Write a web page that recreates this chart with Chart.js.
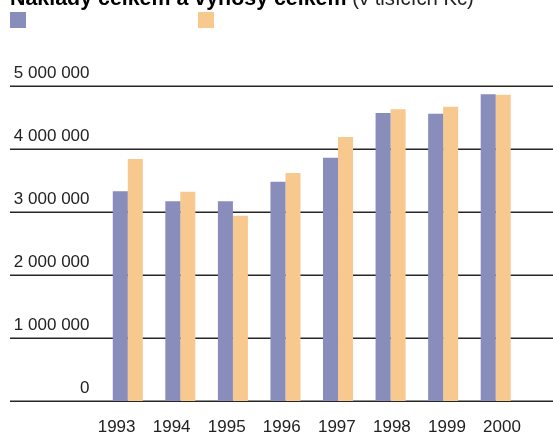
<!DOCTYPE html>
<html lang="cs">
<head>
<meta charset="utf-8">
<title>Náklady celkem a výnosy celkem</title>
<script src="https://cdn.jsdelivr.net/npm/chart.js@4/dist/chart.umd.min.js"></script>
<style>
  html, body { margin: 0; padding: 0; background: #fff; }
  #wrap { width: 553px; height: 433px; position: relative; }
</style>
</head>
<body>
<div id="wrap"><canvas id="c" width="553" height="433"></canvas></div>
<script>
// Roky a hodnoty v tisících Kč
const years = ['1993', '1994', '1995', '1996', '1997', '1998', '1999', '2000'];
const naklady = [3330000, 3170000, 3170000, 3480000, 3860000, 4570000, 4560000, 4870000];
const vynosy  = [3840000, 3320000, 2940000, 3620000, 4190000, 4630000, 4670000, 4860000];
const yTickLabels = ['0', '1 000 000', '2 000 000', '3 000 000', '4 000 000', '5 000 000'];

const titleBold = 'Náklady celkem a výnosy celkem';
const titleLight = ' (v tisících Kč)';
const seriesNames = ['Náklady celkem', 'Výnosy celkem'];
const colors = ['#898dbb', '#f8c98f'];

const FONT = '"Liberation Sans", Arial, Helvetica, sans-serif';

// Vodorovné linky přes celou šířku a nadpis s legendou
const decor = {
  id: 'decor',
  beforeDatasetsDraw(chart) {
    const ctx = chart.ctx;
    const ys = chart.scales.y;
    ctx.save();
    ctx.strokeStyle = '#262626';
    ctx.lineWidth = 1.6;
    ys.ticks.forEach(t => {
      const py = Math.round(ys.getPixelForValue(t.value)) + 0.2;
      ctx.beginPath();
      ctx.moveTo(10, py);
      ctx.lineTo(chart.width, py);
      ctx.stroke();
    });
    ctx.restore();
  },
  afterDraw(chart) {
    const ctx = chart.ctx;
    ctx.save();
    ctx.textBaseline = 'alphabetic';
    ctx.fillStyle = '#000';
    ctx.font = 'bold 21.4px ' + FONT;
    ctx.fillText(titleBold, 10, 5);
    const w = ctx.measureText(titleBold).width;
    ctx.font = '20.3px ' + FONT;
    ctx.fillStyle = '#222';
    ctx.fillText(titleLight, 10 + w, 5);
    // čtverečky legendy
    const boxX = [10, 198];
    chart.data.datasets.forEach((ds, i) => {
      ctx.fillStyle = ds.backgroundColor;
      ctx.fillRect(boxX[i], 12, 16, 16);
    });
    ctx.restore();
  }
};

new Chart(document.getElementById('c'), {
  type: 'bar',
  data: {
    labels: years,
    datasets: [
      { label: seriesNames[0], data: naklady, backgroundColor: colors[0], borderWidth: 0 },
      { label: seriesNames[1], data: vynosy, backgroundColor: colors[1], borderWidth: 0 }
    ]
  },
  options: {
    responsive: false,
    animation: false,
    devicePixelRatio: 1,
    layout: { padding: { left: 10, right: 31, top: 86, bottom: 0 } },
    datasets: { bar: { categoryPercentage: 0.5714, barPercentage: 1.0 } },
    plugins: {
      legend: { display: false },
      title: { display: false },
      tooltip: { enabled: false }
    },
    scales: {
      x: {
        type: 'category',
        display: false,
        offset: true
      },
      xl: {
        type: 'linear',
        position: 'bottom',
        bounds: 'data',
        offset: false,
        min: 1992.726,
        max: 2000.363,
        grid: { display: false, drawTicks: false, offset: false },
        border: { display: false },
        afterBuildTicks: s => { s.ticks = years.map(y => ({ value: Number(y) })); },
        afterFit: s => { s.height = 32; },
        ticks: {
          padding: 16,
          includeBounds: false,
          maxRotation: 0,
          autoSkip: false,
          color: '#222',
          font: { family: FONT, size: 17 },
          callback: v => String(v)
        }
      },
      y: {
        min: 0,
        max: 5000000,
        grid: { display: false, drawTicks: false },
        border: { display: false },
        afterFit: s => { s.width = 91.5; },
        ticks: {
          stepSize: 1000000,
          padding: 12,
          labelOffset: -13,
          color: '#222',
          font: { family: FONT, size: 17 },
          callback: (v, i) => yTickLabels[i]
        }
      }
    }
  },
  plugins: [decor]
});
</script>
</body>
</html>
